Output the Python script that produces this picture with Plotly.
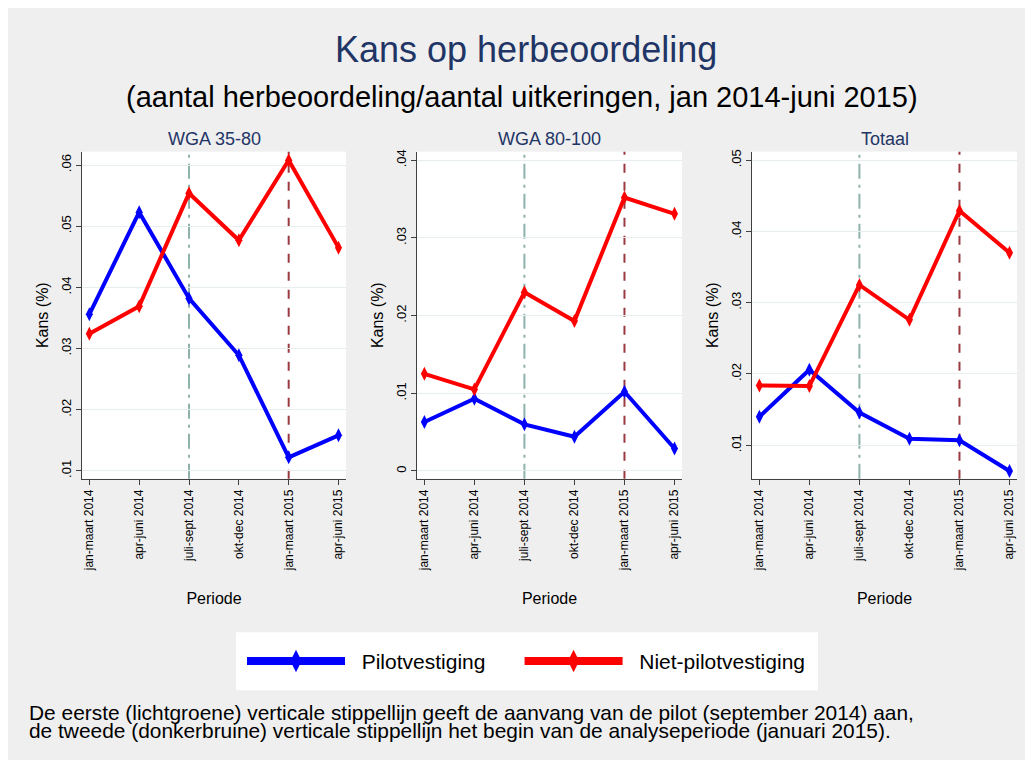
import plotly.graph_objects as go

periods = ["jan-maart 2014", "apr-juni 2014", "juli-sept 2014",
           "okt-dec 2014", "jan-maart 2015", "apr-juni 2015"]
pilot_start = "juli-sept 2014"
analyse_start = "jan-maart 2015"

panels = ["WGA 35-80", "WGA 80-100", "Totaal"]

pilot_35_80 = [0.0356, 0.0523, 0.0382, 0.0289, 0.0122, 0.0158]
niet_35_80 = [0.0324, 0.0369, 0.0554, 0.0477, 0.0608, 0.0465]
pilot_80_100 = [0.0063, 0.0093, 0.0060, 0.0044, 0.0102, 0.0029]
niet_80_100 = [0.0125, 0.0105, 0.0230, 0.0193, 0.0352, 0.0331]
pilot_totaal = [0.0140, 0.0206, 0.0146, 0.0109, 0.0107, 0.0064]
niet_totaal = [0.0184, 0.0183, 0.0325, 0.0276, 0.0429, 0.0370]

yticks_35_80 = [".01", ".02", ".03", ".04", ".05", ".06"]
yticks_80_100 = ["0", ".01", ".02", ".03", ".04"]
yticks_totaal = [".01", ".02", ".03", ".04", ".05"]

series = [
    (pilot_35_80, niet_35_80, yticks_35_80, [0.0087, 0.0622]),
    (pilot_80_100, niet_80_100, yticks_80_100, [-0.0010, 0.0411]),
    (pilot_totaal, niet_totaal, yticks_totaal, [0.0053, 0.0512]),
]

BLUE = "#0000ff"
RED = "#ff0000"
NAVY = "#1f3566"
BG = "#efefef"
GRID = "#e6eeee"
AXIS = "#404040"

W, H = 1033, 760
OFF = 8  # page body margin


def px(x):
    return (x - OFF) / W


def py(y):
    return (H - (y - OFF)) / H


x_domains = [[px(82), px(346)], [px(417), px(682)], [px(752), px(1017)]]
y_domain = [py(478), py(150)]

fig = go.Figure()

for i, (pilot, niet, ytl, yr) in enumerate(series):
    n = "" if i == 0 else str(i + 1)
    xa, ya = "x" + n, "y" + n

    fig.add_trace(go.Scatter(
        x=periods, y=pilot, mode="lines+markers", name="Pilotvestiging",
        line=dict(color=BLUE, width=4), marker=dict(symbol="diamond-tall", size=10, color=BLUE),
        xaxis=xa, yaxis=ya, showlegend=False,
    ))
    fig.add_trace(go.Scatter(
        x=periods, y=niet, mode="lines+markers", name="Niet-pilotvestiging",
        line=dict(color=RED, width=4), marker=dict(symbol="diamond-tall", size=10, color=RED),
        xaxis=xa, yaxis=ya, showlegend=False,
    ))

    # verticale stippellijnen
    fig.add_shape(type="line", xref=xa, yref=ya + " domain", x0=pilot_start, x1=pilot_start,
                  y0=0, y1=1, line=dict(color="#8fb3ab", width=2, dash="longdashdot"), layer="below")
    fig.add_shape(type="line", xref=xa, yref=ya + " domain", x0=analyse_start, x1=analyse_start,
                  y0=0, y1=1, line=dict(color="#9b3a40", width=2, dash="dash"), layer="below")

    tickvals = [float(t) for t in ytl]
    fig.update_layout({
        "xaxis" + n: dict(
            domain=x_domains[i], anchor=ya, type="category",
            categoryorder="array", categoryarray=periods,
            range=[-0.147, 5.15], tickangle=-90,
            ticks="outside", ticklen=5, tickcolor=AXIS,
            showline=True, linecolor=AXIS, linewidth=1, showgrid=False,
            tickfont=dict(size=12, color="black"),
            title=dict(text="Periode", font=dict(size=16, color="black"), standoff=22),
        ),
        "yaxis" + n: dict(
            domain=y_domain, anchor=xa, range=yr,
            tickvals=tickvals, ticktext=ytl, tickangle=-90,
            ticks="outside", ticklen=5, tickcolor=AXIS,
            showline=True, linecolor=AXIS, linewidth=1,
            showgrid=True, gridcolor=GRID, gridwidth=1, zeroline=False,
            tickfont=dict(size=13, color="black"),
            title=dict(text="Kans (%)", font=dict(size=16, color="black"), standoff=6),
        ),
    })
    fig.add_annotation(text=panels[i], xref="paper", yref="paper",
                       x=sum(x_domains[i]) / 2, y=py(137), xanchor="center", yanchor="middle",
                       showarrow=False, font=dict(size=18, color=NAVY))

# legenda (alleen voor de legenda, zonder punten)
NB = "\u00a0"
fig.add_trace(go.Scatter(x=[None], y=[None], mode="lines+markers", name=NB * 2 + "Pilotvestiging" + NB * 5,
                         line=dict(color=BLUE, width=8), marker=dict(symbol="diamond-tall", size=16, color=BLUE)))
fig.add_trace(go.Scatter(x=[None], y=[None], mode="lines+markers", name=NB * 2 + "Niet-pilotvestiging",
                         line=dict(color=RED, width=8), marker=dict(symbol="diamond-tall", size=16, color=RED)))

# titel
fig.add_annotation(text="Kans op herbeoordeling", xref="paper", yref="paper",
                   x=px(526), y=py(48), xanchor="center", yanchor="middle", showarrow=False,
                   font=dict(size=36, color=NAVY))
fig.add_annotation(text="(aantal herbeoordeling/aantal uitkeringen, jan 2014-juni 2015)",
                   xref="paper", yref="paper", x=px(522), y=py(95), xanchor="center", yanchor="middle",
                   showarrow=False, font=dict(size=29, color="black"))

# legendavak
fig.add_shape(type="rect", xref="paper", yref="paper",
              x0=px(236), x1=px(818), y0=py(690), y1=py(632),
              fillcolor="white", line=dict(width=0), layer="below")

# voetnoot
footnote = [
    "De eerste (lichtgroene) verticale stippellijn geeft de aanvang van de pilot (september 2014) aan,",
    "de tweede (donkerbruine) verticale stippellijn het begin van de analyseperiode (januari 2015).",
]
for j, line in enumerate(footnote):
    fig.add_annotation(text=line, xref="paper", yref="paper", x=px(27), y=py(712 + 18 * j),
                       xanchor="left", yanchor="middle", align="left", showarrow=False,
                       font=dict(size=20.9, color="black"))

fig.update_layout(
    width=W, height=H,
    paper_bgcolor=BG, plot_bgcolor="white",
    font=dict(family="Liberation Sans, Arial, sans-serif"),
    margin=dict(l=0, r=0, t=0, b=0),
    showlegend=True,
    legend=dict(orientation="h", x=px(526), xanchor="center", y=py(661), yanchor="middle",
                bgcolor="rgba(0,0,0,0)", font=dict(size=21, color="black"),
                itemwidth=98, tracegroupgap=0),
)

fig.write_html("out.html")
